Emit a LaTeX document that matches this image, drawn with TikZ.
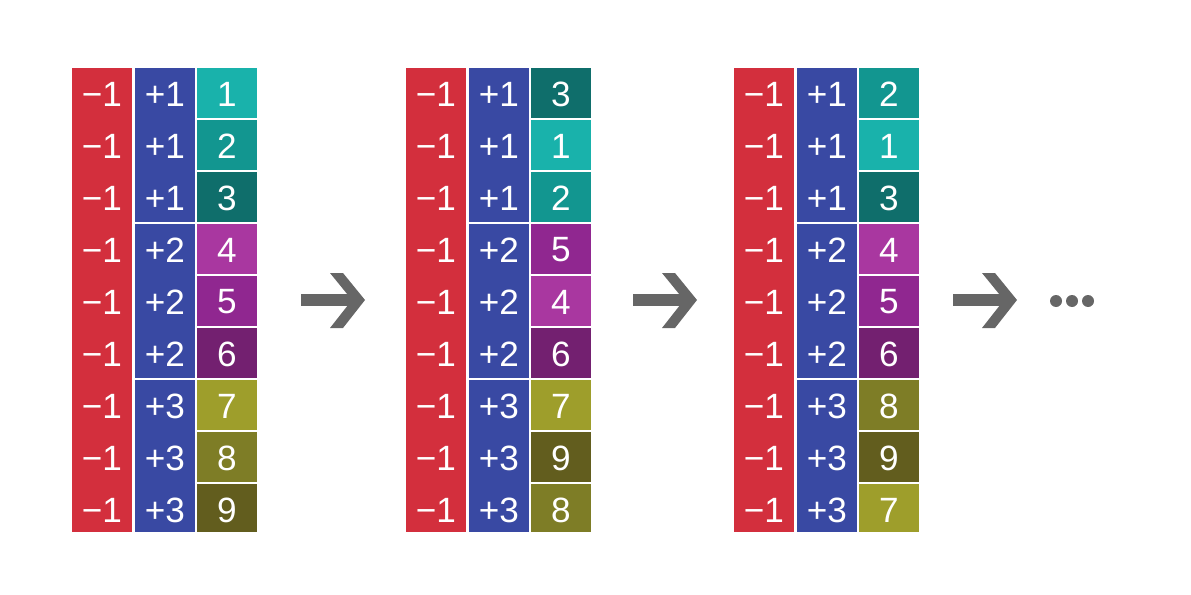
\documentclass[tikz,border=0pt]{standalone}
\usepackage{fontspec}
\setmainfont{Liberation Sans}
\definecolor{minuscol}{HTML}{D32F3D}
\definecolor{pluscol}{HTML}{3949A3}
\definecolor{arrowcol}{HTML}{666666}
\definecolor{num1}{HTML}{19B2AB}
\definecolor{num2}{HTML}{129690}
\definecolor{num3}{HTML}{0F6E6B}
\definecolor{num4}{HTML}{A937A0}
\definecolor{num5}{HTML}{902790}
\definecolor{num6}{HTML}{732070}
\definecolor{num7}{HTML}{9E9E2B}
\definecolor{num8}{HTML}{7E7D26}
\definecolor{num9}{HTML}{625D1E}
\tikzset{
  lbl/.style={text=white,inner sep=0pt,font=\fontsize{20}{24}\selectfont},
}
\begin{document}
\begin{tikzpicture}[x=0.02cm,y=-0.02cm]
      \useasboundingbox (0,0) rectangle (1191,595);
      \def\ytop{68};
      \def\ybot{532};
      \def\h{52};
      % three columns of cells
      \foreach \bx/\ord [count=\b] in {72/{1,2,3,4,5,6,7,8,9},406/{3,1,2,5,4,6,7,9,8},734/{2,1,3,4,5,6,8,9,7}} {
          \fill[minuscol] (\bx,\ytop) rectangle (\bx+60,\ybot);
          \foreach \g in {1,2,3} {
              \pgfmathsetmacro{\gt}{\ytop+3*\h*(\g-1)};
              \pgfmathsetmacro{\gb}{min(\gt+3*\h-2,\ybot)};
              \fill[pluscol] (\bx+63,\gt) rectangle (\bx+123,\gb);
            }
          \foreach \v [count=\k] in \ord {
              \pgfmathsetmacro{\ct}{\ytop+\h*(\k-1)};
              \pgfmathsetmacro{\cb}{min(\ct+\h-2,\ybot)};
              \pgfmathsetmacro{\cy}{\ct+26};
              \pgfmathtruncatemacro{\p}{int((\k-1)/3)+1};
              \fill[num\v] (\bx+125,\ct) rectangle (\bx+185,\cb);
              \node[lbl] (m\b-\k) at (\bx+30,\cy) {−1};
              \node[lbl] (p\b-\k) at (\bx+93,\cy) {+\p};
              \node[lbl] (n\b-\k) at (\bx+155,\cy) {\v};
            }
        }
      % arrows
      \foreach \ax in {301,633,953} {
          \fill[arrowcol] (\ax,294) rectangle (\ax+54,306);
          \fill[arrowcol] (\ax+29,273) -- (\ax+42,273) -- (\ax+64,300)
            -- (\ax+42,328) -- (\ax+29,328) -- (\ax+51,300) -- cycle;
        }
      \foreach \dx in {1056,1072,1088}
          \fill[arrowcol] (\dx,301) circle (0.12cm);
    \end{tikzpicture}
\end{document}
